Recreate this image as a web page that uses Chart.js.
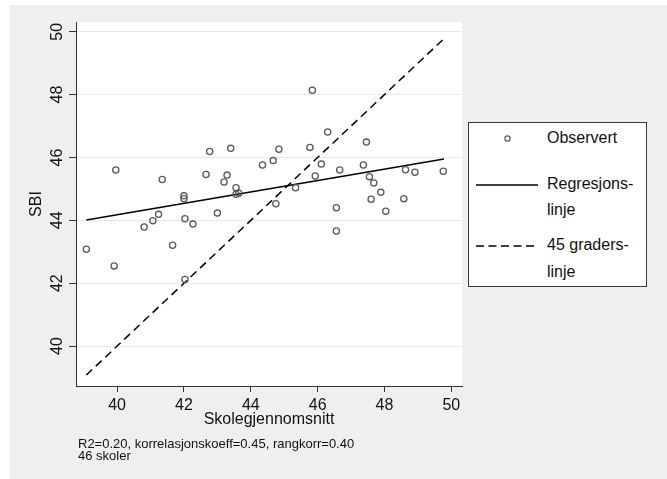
<!DOCTYPE html>
<html lang="no">
<head>
<meta charset="UTF-8">
<title>SBI mot skolegjennomsnitt</title>
<script src="https://cdn.jsdelivr.net/npm/chart.js"></script>
<style>
  body { margin: 0; background: #ffffff; font-family: 'Liberation Sans', Arial, sans-serif; color: #111; }
  .panel { position: absolute; left: 10px; top: 5px; width: 657px; height: 474px; background: #efefef; }
  #wrap { position: absolute; left: 0; top: 0; width: 667px; height: 479px; }
  .legend { position: absolute; left: 468px; top: 122px; width: 177px; height: 163px; background: #fff; border: 1px solid #3a3a3a; }
  .lbl { position: absolute; font-size: 16px; line-height: 20px; white-space: nowrap; }
  .notes { position: absolute; left: 78px; top: 438px; font-size: 13px; line-height: 12px; }
  svg { position: absolute; overflow: visible; }
</style>
</head>
<body>
<div class="panel"></div>
<div id="wrap"><canvas id="chart" width="667" height="479"></canvas></div>

<div class="legend">
  <svg style="left:0;top:0" width="177" height="163">
    <circle cx="38.5" cy="15.5" r="2.6" fill="none" stroke="#5a5a5a" stroke-width="1.2"/>
    <line x1="7" y1="62" x2="69" y2="62" stroke="#000" stroke-width="1.5"/>
    <line x1="7" y1="123" x2="69" y2="123" stroke="#000" stroke-width="1.5" stroke-dasharray="8,4.5"/>
  </svg>
  <div class="lbl" style="left:78px;top:5px">Observert</div>
  <div class="lbl" style="left:78px;top:51px">Regresjons-</div>
  <div class="lbl" style="left:78px;top:77px">linje</div>
  <div class="lbl" style="left:78px;top:112px">45 graders-</div>
  <div class="lbl" style="left:78px;top:139px">linje</div>
</div>

<div class="notes">R2=0.20, korrelasjonskoeff=0.45, rangkorr=0.40<br>46 skoler</div>

<script>
// skolegjennomsnitt (x) og SBI (y) for 46 skoler
const skoleSnitt = [39.96, 41.35, 42.66, 42.77, 42.00, 42.00, 41.24, 41.07, 40.81, 42.03,
                    42.27, 39.08, 41.66, 39.91, 42.03, 45.84, 43.40, 44.84, 45.77, 46.30,
                    43.29, 43.20, 44.35, 44.67, 46.11, 45.93, 46.66, 43.56, 43.56, 43.64,
                    45.34, 43.00, 44.75, 46.56, 46.56, 47.46, 47.37, 48.63, 48.91, 49.76,
                    47.55, 47.68, 47.89, 47.60, 48.58, 48.04];
const sbi = [45.60, 45.30, 45.46, 46.19, 44.78, 44.69, 44.19, 43.99, 43.79, 44.05,
             43.88, 43.08, 43.21, 42.55, 42.12, 48.14, 46.29, 46.26, 46.32, 46.81,
             45.44, 45.22, 45.76, 45.90, 45.79, 45.41, 45.60, 45.04, 44.83, 44.86,
             45.04, 44.23, 44.53, 44.40, 43.66, 46.49, 45.76, 45.61, 45.53, 45.56,
             45.39, 45.19, 44.89, 44.67, 44.69, 44.29];

// regresjonslinje og 45 graders linje
const regX = [39.08, 49.78];
const regY = [44.01, 45.95];
const diagX = [39.08, 49.78];
const diagY = [39.08, 49.78];

const xTicks = [40, 42, 44, 46, 48, 50];
const yTicks = [40, 42, 44, 46, 48, 50];

const toPoints = (xs, ys) => xs.map((x, i) => ({ x: x, y: ys[i] }));

// hvit bakgrunn i plottområdet
const plotBg = {
  id: 'plotBg',
  beforeDraw(chart) {
    const { ctx, chartArea: a } = chart;
    ctx.save();
    ctx.fillStyle = '#ffffff';
    ctx.fillRect(a.left, a.top, a.right - a.left, a.bottom - a.top);
    ctx.restore();
  }
};

const font = { family: "'Liberation Sans', Arial, sans-serif", size: 16 };

new Chart(document.getElementById('chart').getContext('2d'), {
  type: 'scatter',
  data: {
    datasets: [
      {
        label: 'Observert',
        data: toPoints(skoleSnitt, sbi),
        pointStyle: 'circle',
        pointRadius: 3.1,
        borderWidth: 1.3,
        borderColor: '#5a5a5a',
        backgroundColor: 'rgba(0,0,0,0)'
      },
      {
        label: 'Regresjonslinje',
        type: 'line',
        data: toPoints(regX, regY),
        borderColor: '#000',
        borderWidth: 1.5,
        pointRadius: 0,
        fill: false
      },
      {
        label: '45 graderslinje',
        type: 'line',
        data: toPoints(diagX, diagY),
        borderColor: '#000',
        borderWidth: 1.5,
        borderDash: [8, 5],
        pointRadius: 0,
        fill: false
      }
    ]
  },
  options: {
    responsive: false,
    animation: false,
    layout: { padding: { left: 0, top: 22, right: 205, bottom: 49 } },
    plugins: { legend: { display: false }, tooltip: { enabled: false } },
    scales: {
      x: {
        type: 'linear',
        min: 38.77,
        max: 50.32,
        afterBuildTicks: s => { s.ticks = xTicks.map(v => ({ value: v })); },
        afterFit: s => { s.height = 44; },
        border: { display: true, color: '#333', width: 1 },
        grid: { drawOnChartArea: false, tickLength: 6, tickColor: '#333' },
        ticks: { font: font, color: '#111', padding: 4, maxRotation: 0 },
        title: { display: true, text: 'Skolegjennomsnitt', font: font, color: '#111', padding: { top: 0, bottom: 1 } }
      },
      y: {
        type: 'linear',
        min: 38.73,
        max: 50.31,
        afterBuildTicks: s => { s.ticks = yTicks.map(v => ({ value: v })); },
        afterFit: s => { s.width = 76; },
        border: { display: true, color: '#333', width: 1 },
        grid: { color: '#e8e8e8', tickLength: 7, tickColor: '#333' },
        ticks: { font: font, color: '#111', padding: 3, minRotation: 90, maxRotation: 90, crossAlign: 'center' },
        title: { display: true, text: 'SBI', font: font, color: '#111', padding: { top: 27, bottom: 0 } }
      }
    }
  },
  plugins: [plotBg]
});
</script>
</body>
</html>
